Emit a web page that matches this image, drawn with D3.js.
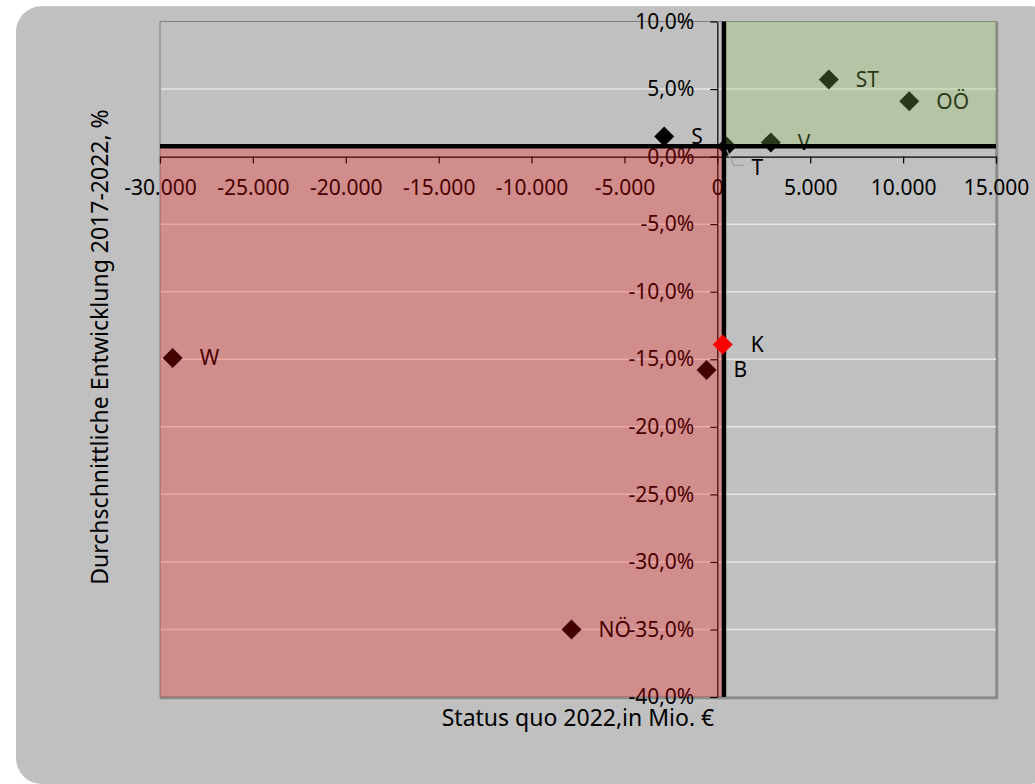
<!DOCTYPE html>
<html><head><meta charset="utf-8">
<script src="https://cdn.jsdelivr.net/npm/d3@7"></script>
<style>
body{margin:0;background:#fff}
svg{display:block}
text{font-family:"Noto Sans",sans-serif;fill:#000}
</style>
</head><body>
<svg id="chart" width="1035" height="784"></svg>
<script>
// ---- data ----
const regions     = ["ST", "OÖ", "V", "S", "T", "K", "B", "W", "NÖ"];
const statusQuo   = [6000, 10330, 2880, -2860, 500, 290, -580, -29320, -7850];   // Mio. €
const development = [5.7, 4.1, 1.05, 1.48, 0.75, -13.9, -15.8, -14.9, -35.0];    // %
const highlighted = ["K"];
const xTickValues = [-30000, -25000, -20000, -15000, -10000, -5000, 0, 5000, 10000, 15000];
const yTickValues = [-40, -35, -30, -25, -20, -15, -10, -5, 0, 5, 10];
const quadrantX = 355;    // divider, Mio. €
const quadrantY = 0.77;   // divider, %
const xTitle = "Status quo 2022,in Mio. €";
const yTitle = "Durchschnittliche Entwicklung 2017-2022, %";

// ---- setup ----
const svg = d3.select("#chart");
const W = 1035, H = 784;
const plot = {left: 160, right: 996, top: 21.5, bottom: 697};

const x = d3.scaleLinear().domain([-30000, 15000]).range([plot.left, plot.right]);
const y = d3.scaleLinear().domain([-40, 10]).range([plot.bottom, plot.top]);

const de = d3.formatLocale({decimal: ",", thousands: ".", grouping: [3], currency: ["", " €"], minus: "-"});
const fx = de.format(",");
const fy = v => de.format(",.1f")(v) + "%";

// chart area
svg.append("rect").attr("x", 16).attr("y", 6).attr("width", 1040).attr("height", 778)
  .attr("rx", 26).attr("fill", "#c0c0c0");

// plot area
svg.append("rect").attr("x", plot.left).attr("y", plot.top)
  .attr("width", plot.right - plot.left).attr("height", plot.bottom - plot.top)
  .attr("fill", "#c0c0c0").attr("stroke", "#808080").attr("stroke-width", 1);
// shadow on right/bottom
svg.append("path")
  .attr("d", `M${plot.right + 1},${plot.top} V${plot.bottom + 1} H${plot.left}`)
  .attr("fill", "none").attr("stroke", "#8a8a8a").attr("stroke-width", 2.5);

// gridlines
svg.append("g").selectAll("line")
  .data(yTickValues.filter(v => v !== 10 && v !== -40 && v !== 0))
  .join("line")
  .attr("x1", plot.left + 1).attr("x2", plot.right)
  .attr("y1", d => y(d)).attr("y2", d => y(d))
  .attr("stroke", "#e4e4e4").attr("stroke-width", 1.5);

// axes
const gx = svg.append("g").attr("transform", `translate(0,${y(0)})`)
  .call(d3.axisBottom(x).tickValues(xTickValues).tickFormat(fx).tickSize(7).tickSizeOuter(0).tickPadding(16));
const gy = svg.append("g").attr("transform", `translate(${x(0)},0)`)
  .call(d3.axisLeft(y).tickValues(yTickValues).tickFormat(fy).tickSize(7).tickSizeOuter(0).tickPadding(16));
[gx, gy].forEach(g => {
  g.select(".domain").attr("stroke", "#000").attr("stroke-width", 1.2);
  g.selectAll(".tick line").attr("stroke", "#000").attr("stroke-width", 1.2);
  g.selectAll(".tick text").attr("font-size", 21).attr("font-family", "Noto Sans").attr("fill", "#000");
});

// points (normal ones, under overlays)
const pts = regions.map((r, i) => ({r, xv: statusQuo[i], yv: development[i], hi: highlighted.includes(r)}));
const diamond = d3.symbol().type(d3.symbolSquare).size(200);

const gPts = svg.append("g");
gPts.selectAll("path").data(pts.filter(d => !d.hi)).join("path")
  .attr("d", diamond)
  .attr("transform", d => `translate(${x(d.xv)},${y(d.yv)}) rotate(45)`)
  .attr("fill", "#000");

// labels
pts.filter(d => !d.hi).forEach(d => {
  const px = x(d.xv), py = y(d.yv);
  if (d.r === "T") {
    svg.append("path")
      .attr("d", `M${px},${py + 3} L${px + 7},${py + 19} H${px + 17}`)
      .attr("fill", "none").attr("stroke", "#a0a0a0").attr("stroke-width", 1.2);
    svg.append("text").attr("x", px + 25).attr("y", py + 21).attr("dy", "0.35em")
      .attr("font-size", 21).text(d.r);
  } else {
    svg.append("text").attr("x", px + 27).attr("y", py).attr("dy", "0.35em")
      .attr("font-size", 21).text(d.r);
  }
});

// quadrant overlays
svg.append("rect")
  .attr("x", x(-30000)).attr("y", y(quadrantY))
  .attr("width", x(quadrantX) - x(-30000)).attr("height", y(-40) - y(quadrantY))
  .attr("fill", "#ff0000").attr("fill-opacity", 0.27);
svg.append("rect")
  .attr("x", x(quadrantX)).attr("y", y(10))
  .attr("width", x(15000) - x(quadrantX)).attr("height", y(quadrantY) - y(10))
  .attr("fill", "#97cf5c").attr("fill-opacity", 0.27);

// divider lines
svg.append("line").attr("x1", x(-30000)).attr("x2", x(15000))
  .attr("y1", y(quadrantY)).attr("y2", y(quadrantY))
  .attr("stroke", "#000").attr("stroke-width", 4.5);
svg.append("line").attr("x1", x(quadrantX)).attr("x2", x(quadrantX))
  .attr("y1", y(10)).attr("y2", y(-40))
  .attr("stroke", "#000").attr("stroke-width", 4.5);

// highlighted point on top
pts.filter(d => d.hi).forEach(d => {
  const px = x(d.xv), py = y(d.yv);
  svg.append("path").attr("d", diamond)
    .attr("transform", `translate(${px},${py}) rotate(45)`).attr("fill", "#ff0000");
  svg.append("text").attr("x", px + 28).attr("y", py).attr("dy", "0.35em")
    .attr("font-size", 21).text(d.r);
});

// axis titles
svg.append("text").attr("x", (plot.left + plot.right) / 2).attr("y", 726)
  .attr("text-anchor", "middle").attr("font-size", 23).text(xTitle);
svg.append("text").attr("transform", `translate(108,347) rotate(-90)`)
  .attr("text-anchor", "middle").attr("font-size", 23).text(yTitle);
</script>
</body></html>
